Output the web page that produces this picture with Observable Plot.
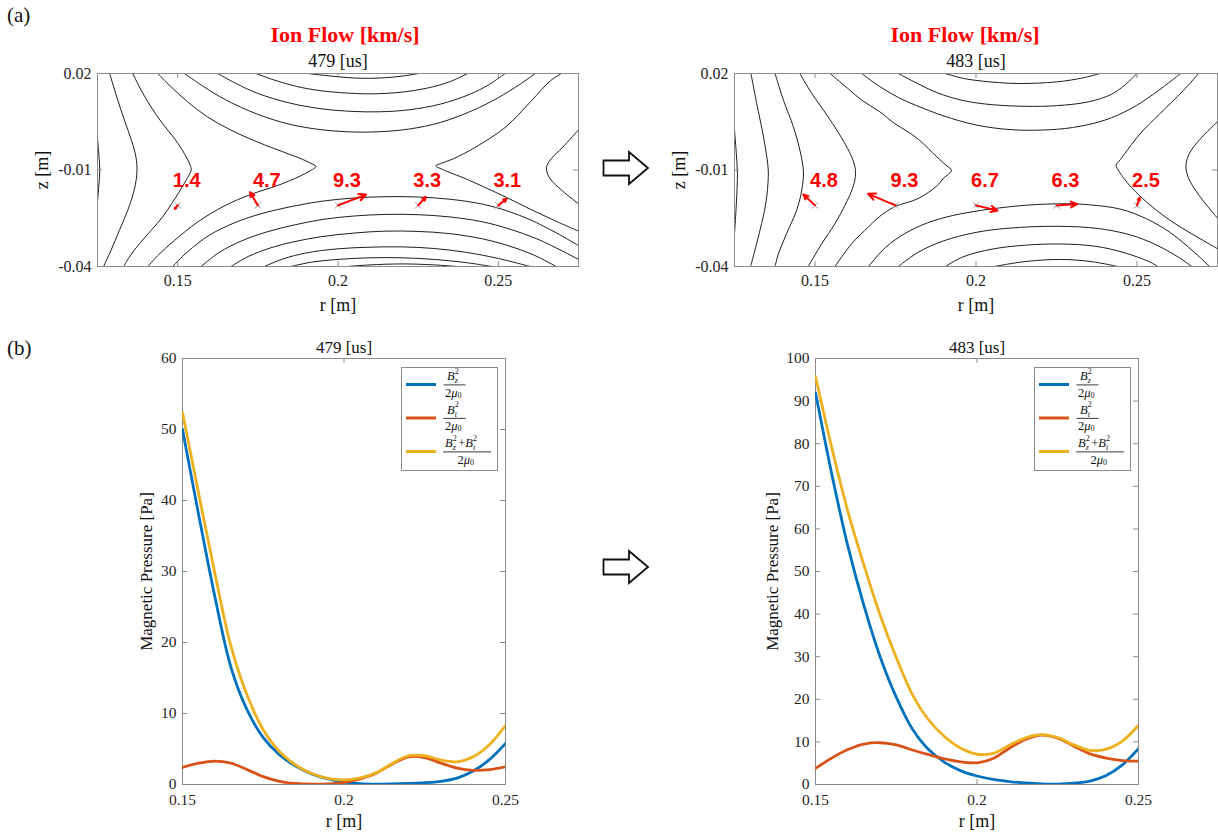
<!DOCTYPE html>
<html><head><meta charset="utf-8">
<script src="https://cdn.jsdelivr.net/npm/d3@7"></script>
<script src="https://cdn.jsdelivr.net/npm/@observablehq/plot@0.6"></script>
<style>
body{margin:0;background:#fff;}
#fig{position:relative;width:1218px;height:832px;overflow:hidden;font-family:"Liberation Serif","Times New Roman",serif;color:#262626;}
#fig svg text{font-family:"Liberation Serif","Times New Roman",serif;}
#fig svg g.flowlab text{font-family:"Liberation Sans",Arial,sans-serif;font-weight:bold;}
.abs{position:absolute;}
.panel-tag{position:absolute;font-size:21px;font-family:"Liberation Serif",serif;color:#111;}
</style></head><body><div id="fig"></div>
<script>
// ---------------- DATA ----------------
// (a) contour lines of the poloidal flux, [r (m), z (m)] points
const contours479 = [
  [[0.1250,-0.0003],[0.1254,-0.005],[0.1257,-0.0101],[0.1254,-0.015],[0.1250,-0.0198]],
  [[0.1288,0.02],[0.1310,0.0127],[0.1334,0.0055],[0.1356,-0.0008],[0.1370,-0.0060],[0.1373,-0.0105],[0.1365,-0.0160],[0.1344,-0.0226],[0.1318,-0.0288],[0.1292,-0.0350],[0.1269,-0.04]],
  [[0.1360,0.02],[0.1386,0.0148],[0.1417,0.0096],[0.1453,0.0044],[0.1490,-0.0002],[0.1521,-0.0049],[0.1539,-0.0085],[0.1542,-0.0101],[0.1526,-0.0132],[0.1505,-0.0168],[0.1481,-0.0205],[0.1453,-0.0246],[0.1417,-0.0288],[0.1381,-0.0329],[0.1349,-0.0371],[0.1332,-0.04]],
  [[0.1438,0.02],[0.1479,0.0159],[0.1531,0.0112],[0.1593,0.0065],[0.1666,0.0024],[0.1749,-0.0013],[0.1832,-0.0045],[0.1880,-0.0063],[0.1915,-0.0079],[0.1931,-0.0089],[0.1912,-0.0103],[0.1884,-0.0118],[0.1850,-0.0133],[0.1812,-0.0148],[0.1728,-0.0176],[0.1645,-0.0212],[0.1562,-0.0262],[0.1490,-0.0319],[0.1438,-0.0366],[0.1407,-0.04]],
  [[0.1905,0.02],[0.1950,0.0195],[0.2000,0.0190],[0.2050,0.0186],[0.2100,0.0185],[0.2150,0.0187],[0.2200,0.0192],[0.2252,0.02]],
  [[0.1744,0.02],[0.1800,0.0180],[0.1870,0.0160],[0.1950,0.0146],[0.2050,0.0138],[0.2120,0.0137],[0.2200,0.0142],[0.2280,0.0155],[0.2350,0.0175],[0.2404,0.02]],
  [[0.1625,0.02],[0.1680,0.0170],[0.1750,0.0138],[0.1850,0.0108],[0.1950,0.0090],[0.2050,0.0082],[0.2130,0.0081],[0.2220,0.0087],[0.2320,0.0105],[0.2410,0.0135],[0.2470,0.0165],[0.2521,0.02]],
  [[0.1521,0.02],[0.1580,0.0160],[0.1650,0.0118],[0.1750,0.0073],[0.1850,0.0042],[0.1950,0.0025],[0.2050,0.0018],[0.2130,0.0019],[0.2220,0.0027],[0.2320,0.0048],[0.2420,0.0085],[0.2500,0.0125],[0.2565,0.0165],[0.2615,0.02]],
  [[0.2697,0.02],[0.2662,0.0177],[0.2603,0.0115],[0.2521,0.0032],[0.2427,-0.0030],[0.2360,-0.0065],[0.2320,-0.0080],[0.2305,-0.0087],[0.2325,-0.0098],[0.2400,-0.0128],[0.2460,-0.0155],[0.2525,-0.0185],[0.2600,-0.0222],[0.2675,-0.0257],[0.2750,-0.0290]],
  [[0.2750,0.0025],[0.2700,-0.0030],[0.2665,-0.0065],[0.2650,-0.0092],[0.2660,-0.0125],[0.2700,-0.0165],[0.2750,-0.0205]],
  [[0.1484,-0.04],[0.1530,-0.0355],[0.1600,-0.0302],[0.1680,-0.0263],[0.1760,-0.0236],[0.1863,-0.0212],[0.1950,-0.0197],[0.2050,-0.0187],[0.2150,-0.0183],[0.2250,-0.0184],[0.2350,-0.0191],[0.2450,-0.0206],[0.2530,-0.0228],[0.2600,-0.0255],[0.2680,-0.0295],[0.2750,-0.0335]],
  [[0.1573,-0.04],[0.1630,-0.0356],[0.1700,-0.0320],[0.1780,-0.0292],[0.1863,-0.0271],[0.1950,-0.0254],[0.2050,-0.0243],[0.2150,-0.0238],[0.2250,-0.0239],[0.2350,-0.0246],[0.2450,-0.0261],[0.2530,-0.0282],[0.2620,-0.0314],[0.2700,-0.0352],[0.2750,-0.0378]],
  [[0.1666,-0.04],[0.1720,-0.0369],[0.1790,-0.0342],[0.1863,-0.0323],[0.1950,-0.0307],[0.2050,-0.0296],[0.2150,-0.0290],[0.2250,-0.0291],[0.2350,-0.0298],[0.2450,-0.0314],[0.2530,-0.0335],[0.2610,-0.0364],[0.2680,-0.04]],
  [[0.1770,-0.04],[0.1830,-0.0376],[0.1900,-0.0358],[0.2000,-0.0345],[0.2100,-0.0340],[0.2200,-0.0339],[0.2300,-0.0344],[0.2400,-0.0356],[0.2500,-0.0375],[0.2580,-0.0395],[0.2600,-0.04]],
  [[0.1853,-0.04],[0.1920,-0.0386],[0.2000,-0.0378],[0.2100,-0.0373],[0.2200,-0.0373],[0.2300,-0.0378],[0.2400,-0.0388],[0.2480,-0.04]],
  [[0.2030,-0.04],[0.2100,-0.0395],[0.2200,-0.0392],[0.2300,-0.0395],[0.2370,-0.04]]
];
const contours483 = [
  [[0.1250,0.0024],[0.1255,-0.0040],[0.1259,-0.0111],[0.1256,-0.0200],[0.1250,-0.0298]],
  [[0.1301,0.02],[0.1319,0.0107],[0.1340,0.0003],[0.1353,-0.0080],[0.1355,-0.0120],[0.1347,-0.0205],[0.1329,-0.0288],[0.1300,-0.04]],
  [[0.1376,0.02],[0.1402,0.0117],[0.1433,0.0034],[0.1453,-0.0038],[0.1464,-0.0105],[0.1459,-0.0162],[0.1443,-0.0225],[0.1412,-0.0297],[0.1385,-0.0365],[0.1376,-0.04]],
  [[0.1453,0.02],[0.1490,0.0138],[0.1541,0.0065],[0.1593,-0.0018],[0.1620,-0.0075],[0.1626,-0.0110],[0.1619,-0.0150],[0.1593,-0.0210],[0.1562,-0.0267],[0.1521,-0.0329],[0.1479,-0.04]],
  [[0.1547,0.02],[0.1600,0.0155],[0.1645,0.0117],[0.1700,0.0082],[0.1748,0.0044],[0.1790,0.0018],[0.1825,-0.0008],[0.1878,-0.0059],[0.1910,-0.0088],[0.1924,-0.0101],[0.1900,-0.0125],[0.1878,-0.0150],[0.1820,-0.0189],[0.1748,-0.0214],[0.1700,-0.0245],[0.1666,-0.0277],[0.1614,-0.0329],[0.1562,-0.04]],
  [[0.1904,0.02],[0.1960,0.0185],[0.2023,0.0176],[0.2127,0.0169],[0.2251,0.0174],[0.2330,0.0186],[0.2385,0.02]],
  [[0.1759,0.02],[0.1816,0.0170],[0.1880,0.0140],[0.1960,0.0116],[0.2050,0.0103],[0.2150,0.0098],[0.2250,0.0100],[0.2350,0.0112],[0.2420,0.0135],[0.2462,0.0164],[0.2500,0.02]],
  [[0.1645,0.02],[0.1700,0.0160],[0.1760,0.0125],[0.1816,0.0100],[0.1900,0.0068],[0.2000,0.0040],[0.2100,0.0026],[0.2200,0.0024],[0.2300,0.0032],[0.2400,0.0055],[0.2480,0.0090],[0.2550,0.0135],[0.2610,0.0180],[0.2635,0.02]],
  [[0.2691,0.02],[0.2643,0.0146],[0.2570,0.0074],[0.2509,0.0012],[0.2462,-0.0049],[0.2445,-0.0072],[0.2435,-0.0085],[0.2445,-0.0105],[0.2462,-0.0130],[0.2506,-0.0178],[0.2560,-0.0225],[0.2620,-0.0268],[0.2690,-0.0310],[0.2750,-0.0345]],
  [[0.2750,0.0050],[0.2695,-0.0005],[0.2662,-0.0050],[0.2652,-0.0087],[0.2660,-0.0125],[0.2690,-0.0175],[0.2750,-0.0250]],
  [[0.1666,-0.04],[0.1720,-0.0340],[0.1780,-0.0297],[0.1850,-0.0264],[0.1930,-0.0241],[0.2000,-0.0228],[0.2064,-0.0219],[0.2150,-0.0210],[0.2260,-0.0205],[0.2350,-0.0208],[0.2450,-0.0222],[0.2530,-0.0252],[0.2600,-0.0292],[0.2660,-0.0340],[0.2710,-0.0385],[0.2725,-0.04]],
  [[0.1759,-0.04],[0.1820,-0.0356],[0.1900,-0.0320],[0.2000,-0.0294],[0.2100,-0.0281],[0.2250,-0.0275],[0.2380,-0.0282],[0.2480,-0.0302],[0.2560,-0.0333],[0.2630,-0.0372],[0.2670,-0.04]],
  [[0.1905,-0.04],[0.1960,-0.0370],[0.2050,-0.0346],[0.2150,-0.0334],[0.2260,-0.0330],[0.2370,-0.0337],[0.2460,-0.0357],[0.2540,-0.0386],[0.2565,-0.04]],
  [[0.2057,-0.04],[0.2150,-0.0385],[0.2260,-0.0378],[0.2360,-0.0385],[0.2440,-0.04]]
];

// (a) ion-flow probes
const probeR = [0.15, 0.175, 0.2, 0.225, 0.25];
const probeZ = -0.021;
const speed479 = [1.4, 4.7, 9.3, 3.3, 3.1];
const flowDr479 = [-0.0009, -0.0024, 0.0088, 0.0024, 0.0026];
const flowDz479 = [-0.0011, 0.0041, 0.0034, 0.0026, 0.0021];
const speed483 = [4.8, 9.3, 6.7, 6.3, 2.5];
const flowDr483 = [-0.0036, -0.0085, 0.0067, 0.0064, 0.0008];
const flowDz483 = [0.0034, 0.0036, -0.0016, 0.0004, 0.0024];

// (b) magnetic pressure profiles
const rProfile = [0.150,0.155,0.160,0.165,0.170,0.175,0.180,0.185,0.190,0.195,0.200,0.205,0.210,0.215,0.220,0.225,0.230,0.235,0.240,0.245,0.250];
const bz479  = [50.0,38.0,26.5,16.5,10.5,6.6,4.2,2.6,1.5,0.8,0.35,0.12,0.05,0.08,0.15,0.25,0.45,0.9,1.9,3.5,5.8];
const bt479  = [2.4,3.0,3.3,3.0,2.1,1.1,0.45,0.15,0.05,0.08,0.3,0.8,1.6,2.9,3.9,3.8,3.0,2.3,2.0,2.1,2.5];
const tot479 = [52.4,41.0,29.8,19.5,12.6,7.7,4.65,2.75,1.55,0.88,0.65,0.92,1.65,2.98,4.05,4.05,3.45,3.2,3.9,5.6,8.3];
const bz483  = [92,73,56,42,30,20.5,13,8.2,5.2,3.2,2.0,1.2,0.7,0.35,0.12,0.08,0.3,0.8,2.1,4.6,8.4];
const bt483  = [3.8,6.2,8.2,9.5,9.8,9.3,8.1,7.0,6.0,5.3,5.1,6.1,8.5,10.6,11.6,10.9,9.0,7.2,6.2,5.6,5.5];
const tot483 = [95.8,79.2,64.2,51.5,39.8,29.8,21.1,15.2,11.2,8.5,7.1,7.3,9.2,10.95,11.7,11.0,9.3,8.0,8.3,10.2,13.9];

const seriesColors = ["#0072BD", "#D95319", "#EDB120"];
const legendSubs = [["z"], ["t"], ["z", "t"]];
const rTicks = [0.15, 0.2, 0.25];
const zTicks = [0.02, -0.01, -0.04];
const pTicks479 = [0,10,20,30,40,50,60];
const pTicks483 = [0,10,20,30,40,50,60,70,80,90,100];
const times = ["479 [us]", "483 [us]"];

// ---------------- DRAWING ----------------
const fig = document.getElementById("fig");
const AX = "#8a8a8a";
const TXT = "#262626";
const STYLE = `font-family: "Liberation Serif", serif; font-size: 16px; color: ${TXT}; background: transparent; overflow: visible;`;

function place(svg, left, top) {
  svg.style.position = "absolute";
  svg.style.left = left + "px";
  svg.style.top = top + "px";
  fig.appendChild(svg);
}

function boxTicks(xt, yt, pw, ph) {
  return [
    Plot.tickX(xt, {x: d => d, insetTop: ph - 5, stroke: AX}),
    Plot.tickX(xt, {x: d => d, insetBottom: ph - 5, stroke: AX}),
    Plot.tickY(yt, {y: d => d, insetRight: pw - 5, stroke: AX}),
    Plot.tickY(yt, {y: d => d, insetLeft: pw - 5, stroke: AX}),
    Plot.frame({stroke: AX})
  ];
}
// centred text options
const T = {fill: "#111", textAnchor: "middle", lineAnchor: "middle"};

function contourPanel({lines, speeds, dr, dz, time, left, mL, mR, titleDx}) {
  const W = 600, H = 330, mT = 73, mB = 64;
  const pw = W - mL - mR, ph = H - mT - mB;
  const rows = lines.flatMap((ln, i) => ln.map(([r, z]) => ({r, z, id: i})));
  const probes = probeR.map((r, i) => ({r, z: probeZ, r2: r + dr[i], z2: probeZ + dz[i], s: speeds[i].toFixed(1)}));
  const svg = Plot.plot({
    width: W, height: H, marginLeft: mL, marginRight: mR, marginTop: mT, marginBottom: mB,
    style: STYLE,
    x: {domain: [0.125, 0.275]},
    y: {domain: [-0.04, 0.02]},
    marks: [
      Plot.line(rows, {x: "r", y: "z", z: "id", curve: "catmull-rom", stroke: "#1e1e1e", strokeWidth: 1, clip: true}),
      ...boxTicks(rTicks, zTicks, pw, ph),
      Plot.axisX({ticks: rTicks, tickSize: 0, tickPadding: 8, tickFormat: d => String(d), label: null, fill: TXT, fontSize: 16}),
      Plot.axisY({ticks: zTicks, tickSize: 0, tickPadding: 6, tickFormat: d => String(d), label: null, fill: TXT, fontSize: 16}),
      Plot.dot(probes, {x: "r", y: "z", symbol: "times", r: 3, stroke: "#999", strokeWidth: 1}),
      Plot.arrow(probes, {x1: "r", y1: "z", x2: "r2", y2: "z2", stroke: "#ff0000", strokeWidth: 2, headLength: 6, headAngle: 50}),
      Plot.text(probes, {x: "r", y: "z", text: "s", dx: 9, dy: -25, fill: "#ff0000", fontWeight: "bold", fontSize: 20, className: "flowlab"}),
      Plot.text([time], {...T, text: d => d, frameAnchor: "top", dy: -12, fontSize: 18}),
      Plot.text(["Ion Flow [km/s]"], {...T, text: d => d, frameAnchor: "top", dx: titleDx, dy: -39, fontSize: 22, fontWeight: "bold", fill: "#ff0000"}),
      Plot.text(["r [m]"], {...T, text: d => d, frameAnchor: "bottom", dy: 39, fontSize: 18}),
      Plot.text(["z [m]"], {...T, text: d => d, frameAnchor: "left", dx: -55, rotate: -90, fontSize: 18})
    ]
  });
  place(svg, left, 0);
}

function pressurePanel({bz, bt, tot, yMax, yTicks, time, left, mL, mR, ylabDx}) {
  const W = 600, H = 502, mT = 28, mB = 48;
  const pw = W - mL - mR, ph = H - mT - mB;
  const mk = (vals) => rProfile.map((r, i) => ({r, v: vals[i]}));
  const svg = Plot.plot({
    width: W, height: H, marginLeft: mL, marginRight: mR, marginTop: mT, marginBottom: mB,
    style: STYLE,
    x: {domain: [0.15, 0.25]},
    y: {domain: [0, yMax]},
    marks: [
      ...boxTicks(rTicks, yTicks, pw, ph),
      Plot.line(mk(bz), {x: "r", y: "v", curve: "catmull-rom", stroke: seriesColors[0], strokeWidth: 2.8, clip: true}),
      Plot.line(mk(bt), {x: "r", y: "v", curve: "catmull-rom", stroke: seriesColors[1], strokeWidth: 2.8, clip: true}),
      Plot.line(mk(tot), {x: "r", y: "v", curve: "catmull-rom", stroke: seriesColors[2], strokeWidth: 2.8, clip: true}),
      Plot.axisX({ticks: rTicks, tickSize: 0, tickPadding: 9, tickFormat: d => String(d), label: null, fill: TXT, fontSize: 15.5}),
      Plot.axisY({ticks: yTicks, tickSize: 0, tickPadding: 6, tickFormat: d => String(d), label: null, fill: TXT, fontSize: 15.5}),
      Plot.text([time], {...T, text: d => d, frameAnchor: "top", dy: -11, fontSize: 17}),
      Plot.text(["r [m]"], {...T, text: d => d, frameAnchor: "bottom", dy: 37, fontSize: 18}),
      Plot.text(["Magnetic Pressure [Pa]"], {...T, text: d => d, frameAnchor: "left", dx: ylabDx, rotate: -90, fontSize: 17})
    ]
  });
  place(svg, left, 330);
}

contourPanel({lines: contours479, speeds: speed479, dr: flowDr479, dz: flowDz479, time: times[0], left: 0, mL: 97, mR: 22, titleDx: 7});
contourPanel({lines: contours483, speeds: speed483, dr: flowDr483, dz: flowDz483, time: times[1], left: 618, mL: 116, mR: 1, titleDx: -11});
pressurePanel({bz: bz479, bt: bt479, tot: tot479, yMax: 60, yTicks: pTicks479, time: times[0], left: 0, mL: 182, mR: 95, ylabDx: -36});
pressurePanel({bz: bz483, bt: bt483, tot: tot483, yMax: 100, yTicks: pTicks483, time: times[1], left: 618, mL: 197, mR: 80, ylabDx: -43});

// legends (LaTeX-like fractions B^2/2mu0)
function numer(x, y, subs) {
  const term = (sub) => `<tspan font-style="italic">B</tspan><tspan font-size="8" dy="-6.5">2</tspan><tspan font-size="8" font-style="italic" dx="-4" dy="9.8">${sub}</tspan>`;
  let s = `<text x="${x}" y="${y}" font-size="12.5">` + term(subs[0]);
  if (subs.length > 1) s += `<tspan dy="-3.3" dx="2.5">+</tspan><tspan dx="2.5"></tspan>` + term(subs[1]);
  return s + `</text>`;
}
function denom(cx, y) {
  return `<text x="${cx - 9.5}" y="${y}" font-size="12.5">2<tspan font-style="italic">μ</tspan><tspan font-size="8" dy="1">0</tspan></text>`;
}
function legend(x, y) {
  const div = document.createElement("div");
  div.className = "abs";
  div.style.left = x + "px"; div.style.top = y + "px";
  let body = "";
  legendSubs.forEach((subs, i) => {
    const o = i * 33.5;
    const wide = subs.length > 1;
    const cx = wide ? 66 : 53.5;
    const half = wide ? 24 : 11;
    body += `<line x1="5" x2="35" y1="${o + 17.5}" y2="${o + 17.5}" stroke="${seriesColors[i]}" stroke-width="3"/>`;
    body += numer(wide ? 44 : 46, o + 13, subs);
    body += `<line x1="${cx - half}" x2="${cx + half}" y1="${o + 17.9}" y2="${o + 17.9}" stroke="#222" stroke-width="0.9"/>`;
    body += denom(cx, o + 29.6);
  });
  div.innerHTML = `<svg width="100" height="106" fill="#111" style="overflow:visible">
    <rect x="0.5" y="0.5" width="96" height="103" fill="#fff" stroke="#8a8a8a"/>${body}</svg>`;
  fig.appendChild(div);
}
legend(401, 367);
legend(1034, 367);

// decorations: panel tags and transition arrows
function tag(txt, x, y) {
  const d = document.createElement("div");
  d.className = "panel-tag"; d.textContent = txt;
  d.style.left = x + "px"; d.style.top = y + "px";
  fig.appendChild(d);
}
tag("(a)", 7, 3);
tag("(b)", 7, 336);
function hollowArrow(x, y) {
  const d = document.createElement("div");
  d.className = "abs"; d.style.left = x + "px"; d.style.top = y + "px";
  d.innerHTML = `<svg width="50" height="36"><polygon points="1.5,10.5 27,10.5 27,2 46,18 27,34 27,25.5 1.5,25.5" fill="#fff" stroke="#111" stroke-width="1.8" stroke-linejoin="miter"/></svg>`;
  fig.appendChild(d);
}
hollowArrow(602, 150);
hollowArrow(602, 549);
</script>
</body></html>
